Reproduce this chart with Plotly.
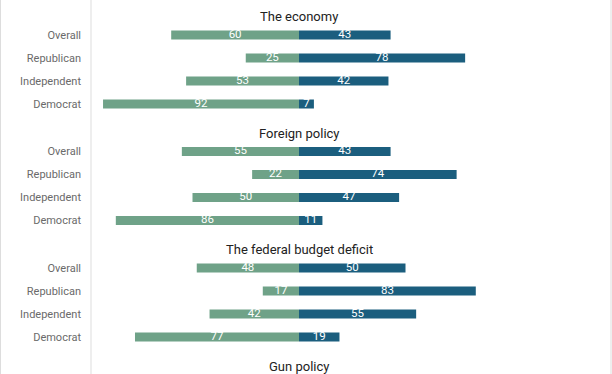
import plotly.graph_objects as go

# ---- data ----
topics = ["The economy", "Foreign policy", "The federal budget deficit", "Gun policy"]
groups = ["Overall", "Republican", "Independent", "Democrat"]
left_vals = [
    [60, 25, 53, 92],
    [55, 22, 50, 86],
    [48, 17, 42, 77],
]
right_vals = [
    [43, 78, 42, 7],
    [43, 74, 47, 11],
    [50, 83, 55, 19],
]

GREEN = "#6fa288"
BLUE = "#1b5e7e"
W, H = 612, 374
ML, MR = 91, 1
PX_PER_UNIT = 2.13
ZERO_PX = 299
plot_w = W - ML - MR
x_range = [-(ZERO_PX - ML) / PX_PER_UNIT, (W - MR - ZERO_PX) / PX_PER_UNIT]

GROUP_STEP = 116.5
FIRST_TOP = 23.5
BAND = 23

fig = go.Figure()
layout = dict(
    width=W, height=H,
    margin=dict(l=ML, r=MR, t=0, b=0),
    paper_bgcolor="white", plot_bgcolor="white",
    showlegend=False, barmode="relative", bargap=1 - 9 / BAND,
    font=dict(family="Roboto, sans-serif", size=11, color="#666"),
)
annotations = []
shapes = []

def py(px):
    return 1 - px / H

for g, topic in enumerate(topics):
    top = FIRST_TOP + GROUP_STEP * g
    annotations.append(dict(text=topic, x=(ZERO_PX - ML) / plot_w, xref="paper",
                            y=py(top - 7), yref="paper", yanchor="middle",
                            xanchor="center", showarrow=False,
                            font=dict(size=13, color="#222")))
    if g >= len(left_vals):
        continue
    sfx = "" if g == 0 else str(g + 1)
    lv = left_vals[g]
    rv = right_vals[g]
    fig.add_trace(go.Bar(y=groups, x=[-v for v in lv], orientation="h",
                         marker=dict(color=GREEN, line=dict(width=0)),
                         xaxis="x" + sfx, yaxis="y" + sfx, hoverinfo="skip"))
    fig.add_trace(go.Bar(y=groups, x=rv, orientation="h",
                         marker=dict(color=BLUE, line=dict(width=0)),
                         xaxis="x" + sfx, yaxis="y" + sfx, hoverinfo="skip"))
    fig.add_trace(go.Scatter(y=groups + groups,
                             x=[-v / 2 for v in lv] + [v / 2 for v in rv],
                             text=[str(v) for v in lv] + [str(v) for v in rv],
                             mode="text", textposition="middle center",
                             textfont=dict(color="white", size=11.5),
                             xaxis="x" + sfx, yaxis="y" + sfx, hoverinfo="skip"))
    bottom = top + BAND * len(groups)
    layout["xaxis" + sfx] = dict(range=x_range, showgrid=False, zeroline=False,
                                 showticklabels=False, showline=False,
                                 anchor="y" + sfx, fixedrange=True)
    layout["yaxis" + sfx] = dict(domain=[py(bottom), py(top)], anchor="x" + sfx,
                                 categoryorder="array",
                                 categoryarray=groups[::-1],
                                 showgrid=False, zeroline=False, showline=False,
                                 ticks="", ticklabelstandoff=9,
                                 tickfont=dict(size=11, color="#6a6a6a"))

# separator and frame lines
shapes.append(dict(type="line", xref="paper", yref="paper", x0=0, x1=0, y0=0, y1=1,
                   line=dict(color="#dddddd", width=1)))
shapes.append(dict(type="line", xref="paper", yref="paper", x0=-ML / plot_w + 0.5 / plot_w,
                   x1=-ML / plot_w + 0.5 / plot_w, y0=0, y1=1,
                   line=dict(color="#dddddd", width=1)))
shapes.append(dict(type="line", xref="paper", yref="paper", x0=1, x1=1, y0=0, y1=1,
                   line=dict(color="#dddddd", width=1)))
layout["annotations"] = annotations
layout["shapes"] = shapes
fig.update_layout(**layout)
fig.write_html("out.html", config={"displayModeBar": False},
               post_script="document.body.style.margin='0';")
